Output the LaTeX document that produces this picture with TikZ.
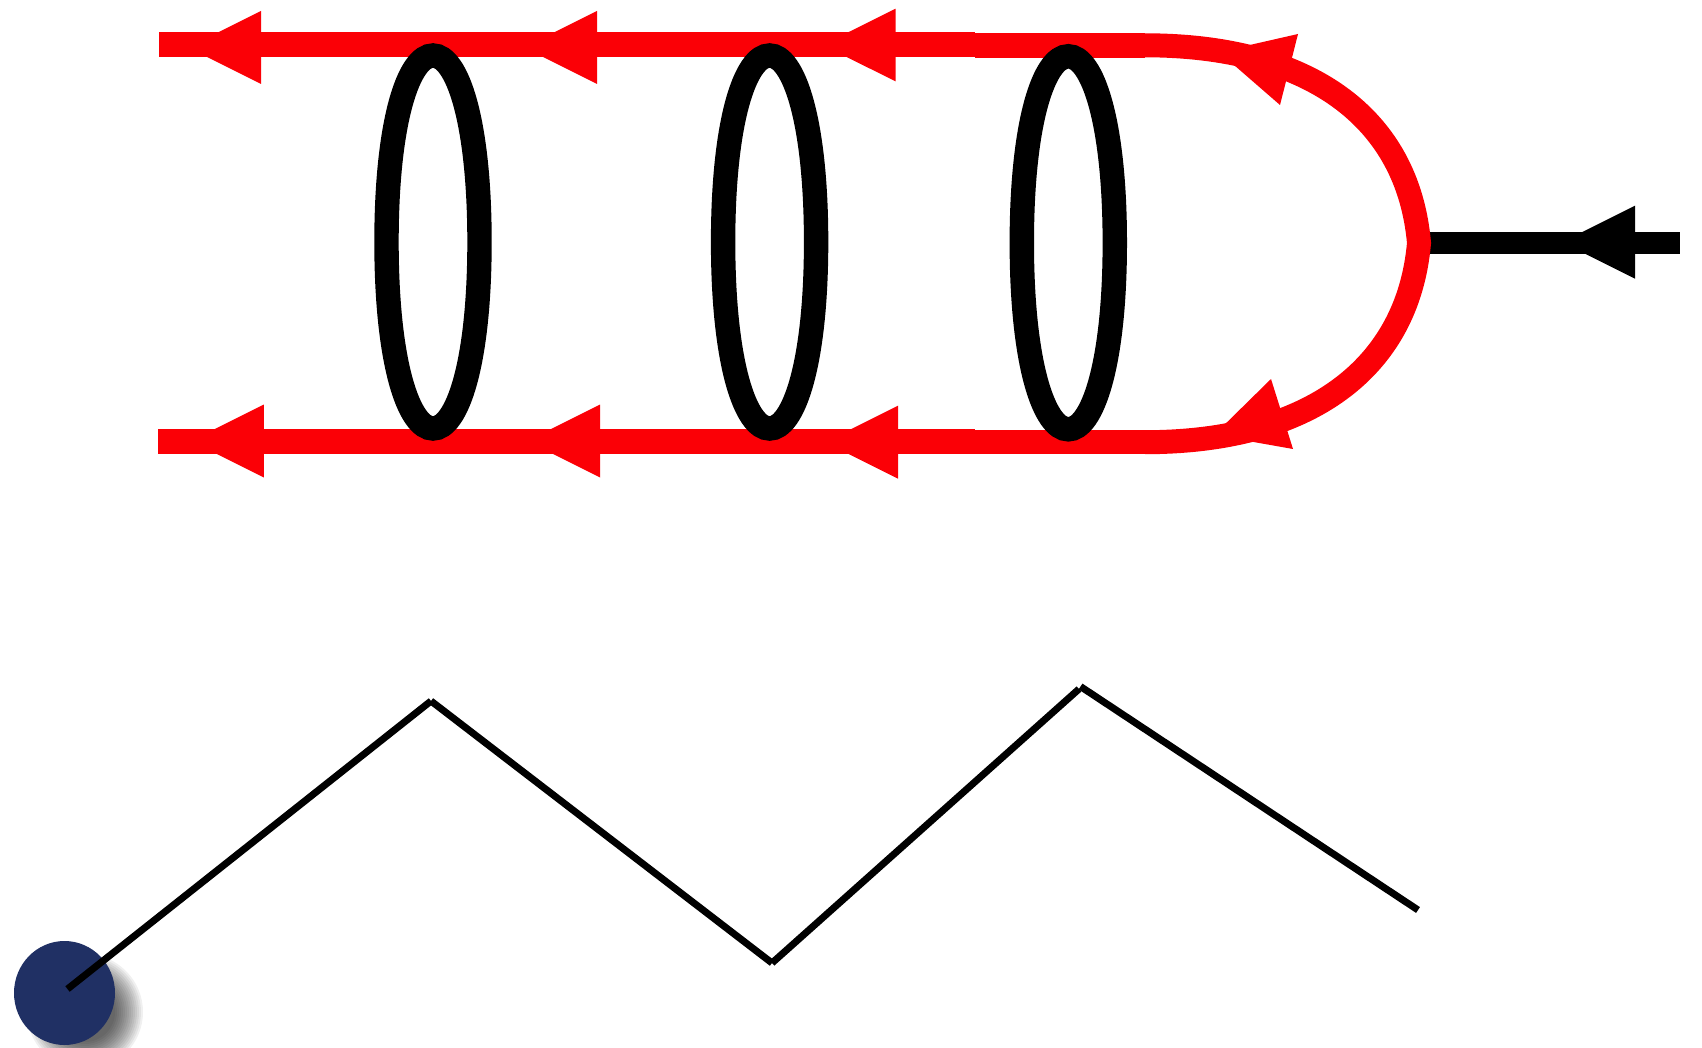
\documentclass[tikz,border=0pt]{standalone}
\definecolor{fred}{RGB}{251,0,6}
\definecolor{navy}{RGB}{32,48,100}
\tikzset{
  redline/.style={draw=fred,line width=24.5pt},
  redcurve/.style={draw=fred,line width=24pt,miter limit=10},
  blackline/.style={draw=black,line width=22pt},
  loopline/.style={draw=black,line width=24.4pt},
  zigline/.style={draw=black,line width=7pt},
  redhead/.style={fill=fred},
  blackhead/.style={fill=black}
}
\newcommand{\looppath}[1]{%
  \draw[loopline,shift={(#1)}] (0,-186.5)
    .. controls (24,-186.5) and (46.5,-122) .. (46.5,0)
    .. controls (46.5,122) and (24,186.5) .. (0,186.5)
    .. controls (-24,186.5) and (-46.5,122) .. (-46.5,0)
    .. controls (-46.5,-122) and (-24,-186.5) .. (0,-186.5) -- cycle;}
\begin{document}
\begin{tikzpicture}[x=1pt,y=-1pt]
\useasboundingbox (0,0) rectangle (1702,1048);
% named points
\coordinate (t0) at (159,44.7);
\coordinate (t1) at (518,44.7);
\coordinate (t2) at (495,44.7);
\coordinate (t3) at (975,44.7);
\coordinate (t4) at (975,45.3);
\coordinate (t5) at (1145,45.3);
\coordinate (apex) at (1419,243);
\coordinate (b0) at (158,441.3);
\coordinate (b1) at (519,441.3);
\coordinate (b2) at (494,441.3);
\coordinate (b3) at (793,441.3);
\coordinate (b4) at (793,441.7);
\coordinate (b5) at (975,441.7);
\coordinate (b6) at (975,442.2);
\coordinate (b7) at (1145,442.2);
\coordinate (k0) at (1419,243);
\coordinate (k1) at (1680,243);
\coordinate (L1) at (433,242);
\coordinate (L2) at (769.6,242);
\coordinate (L3) at (1068.3,242.8);
\coordinate (z0) at (67.5,989);
\coordinate (z1) at (431,701);
\coordinate (z2) at (772,963);
\coordinate (z3a) at (1079,689);
\coordinate (z3b) at (1080.5,686.5);
\coordinate (z4) at (1418,910);
\coordinate (dot) at (64.5,993);
% shadow of the dot
\foreach \r in {58,56,...,30}{
  \fill[black,opacity=0.06] (85,1012) circle (\r pt);
}
% dot
\fill[navy] (dot) ellipse (50.5pt and 52pt);
% black line
\draw[blackline] (k0) -- (k1);
% red lines
\draw[redline] (t0) -- (t1);
\draw[redline] (t2) -- (t3);
\draw[redline] (t4) -- (t5);
\draw[redline] (b0) -- (b1);
\draw[redline] (b2) -- (b3);
\draw[redline] (b4) -- (b5);
\draw[redline] (b6) -- (b7);
\draw[redcurve] (t5) .. controls (1310,45.3) and (1408,118) .. (apex)
                     .. controls (1408,368) and (1310,442.2) .. (b7);
% arrowheads
\fill[redhead] (261,11) -- (261,84) -- (188,47.5) -- cycle;
\fill[redhead] (597,11) -- (597,84) -- (524,47.5) -- cycle;
\fill[redhead] (895.6,8.7) -- (895.6,81.4) -- (822.6,45) -- cycle;
\fill[redhead] (1298,34) -- (1280,105) -- (1219,52) -- cycle;
\fill[redhead] (263.8,404.5) -- (263.8,477.5) -- (190.8,441) -- cycle;
\fill[redhead] (600,404.5) -- (600,477.5) -- (527,441) -- cycle;
\fill[redhead] (898,405.7) -- (898,478.7) -- (825,442.2) -- cycle;
\fill[redhead] (1271,379) -- (1293,449) -- (1214,435) -- cycle;
\fill[blackhead] (1635,205.7) -- (1635,278.7) -- (1562,242.2) -- cycle;
% loops
\looppath{L1}
\looppath{L2}
\looppath{L3}
% zigzag
\draw[zigline] (z0) -- (z1);
\draw[zigline] (z1) -- (z2);
\draw[zigline] (z2) -- (z3a);
\draw[zigline] (z3b) -- (z4);
\end{tikzpicture}
\end{document}
